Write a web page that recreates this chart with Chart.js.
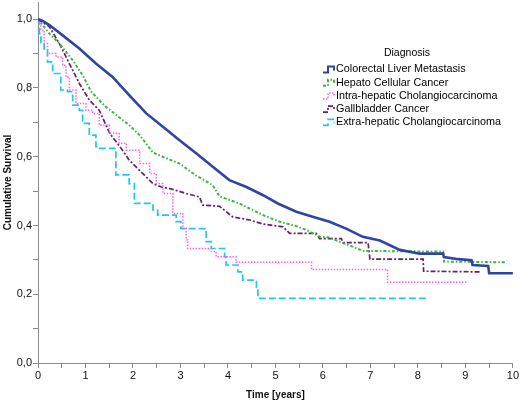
<!DOCTYPE html>
<html>
<head>
<meta charset="utf-8">
<script src="https://cdn.jsdelivr.net/npm/chart.js@4.4.1/dist/chart.umd.min.js"></script>
<style>
  html, body { margin: 0; padding: 0; background: #fff; }
  #wrap { width: 520px; height: 401px; position: relative; }
</style>
</head>
<body>
<div id="wrap"><canvas id="kmChart"></canvas></div>
<script>
// Kaplan-Meier estimates (time in years, cumulative survival)
const diagnoses = [
    'Colorectal Liver Metastasis',
    'Hepato Cellular Cancer',
    'Intra-hepatic Cholangiocarcinoma',
    'Gallbladder Cancer',
    'Extra-hepatic Cholangiocarcinoma'
];

const colorectalT = [0, 0.1, 0.24, 0.52, 0.87, 1.22, 1.57, 1.92, 2.28, 2.63, 2.98, 3.33, 3.68, 4.03, 4.39, 4.74, 5.05, 5.44, 5.8, 6.14, 6.5, 6.84, 7.2, 7.62, 8.04, 8.53, 8.55, 8.85, 9.13, 9.15, 9.48, 9.5, 10.0];
const colorectalS = [1.0, 0.995, 0.983, 0.953, 0.915, 0.871, 0.832, 0.779, 0.726, 0.687, 0.648, 0.61, 0.571, 0.532, 0.512, 0.488, 0.464, 0.44, 0.425, 0.411, 0.39, 0.367, 0.356, 0.329, 0.318, 0.318, 0.308, 0.302, 0.299, 0.285, 0.282, 0.261, 0.261];

const hepatoT = [0, 0.24, 0.45, 0.73, 0.94, 1.12, 1.43, 1.92, 2.14, 2.42, 2.98, 3.33, 3.68, 3.82, 4.24, 4.74, 5.09, 5.44, 5.65, 5.93, 6.14, 6.4, 6.6, 6.84, 8.53, 8.55, 9.83];
const hepatoS = [1.0, 0.958, 0.929, 0.881, 0.837, 0.789, 0.745, 0.692, 0.663, 0.612, 0.58, 0.545, 0.517, 0.485, 0.464, 0.43, 0.411, 0.398, 0.387, 0.368, 0.365, 0.35, 0.34, 0.326, 0.324, 0.295, 0.293];

const intraT = [0, 0.06, 0.13, 0.2, 0.38, 0.52, 0.59, 0.66, 0.8, 1.01, 1.15, 1.29, 1.5, 1.71, 1.86, 2.14, 2.35, 2.49, 2.63, 2.84, 3.05, 3.12, 3.15, 3.65, 3.75, 4.17, 5.76, 7.36, 9.06];
const intraS = [1.0, 0.968, 0.929, 0.9, 0.89, 0.866, 0.832, 0.794, 0.755, 0.735, 0.726, 0.692, 0.668, 0.639, 0.619, 0.58, 0.551, 0.522, 0.493, 0.435, 0.392, 0.358, 0.333, 0.324, 0.309, 0.293, 0.272, 0.235, 0.235];

const gallbladderT = [0, 0.24, 0.45, 0.66, 0.87, 1.08, 1.29, 1.51, 1.78, 1.92, 2.14, 2.42, 2.6, 2.84, 3.12, 3.4, 3.47, 3.82, 4.1, 4.46, 4.74, 5.16, 5.3, 5.86, 5.93, 6.39, 6.42, 6.95, 6.99, 8.11, 8.12, 9.3];
const gallbladderS = [1.0, 0.978, 0.929, 0.871, 0.813, 0.765, 0.735, 0.668, 0.619, 0.59, 0.56, 0.522, 0.512, 0.505, 0.493, 0.483, 0.459, 0.456, 0.425, 0.416, 0.404, 0.396, 0.377, 0.377, 0.362, 0.362, 0.35, 0.35, 0.302, 0.302, 0.267, 0.265];

const extraT = [0, 0.03, 0.06, 0.13, 0.2, 0.31, 0.48, 0.62, 0.73, 0.87, 0.94, 1.08, 1.22, 1.26, 1.64, 1.92, 2.03, 2.42, 2.52, 2.91, 3.01, 3.54, 3.65, 3.93, 3.96, 4.21, 4.31, 4.6, 4.63, 8.17];
const extraS = [1.0, 0.958, 0.929, 0.91, 0.876, 0.842, 0.794, 0.789, 0.75, 0.735, 0.697, 0.663, 0.629, 0.624, 0.547, 0.522, 0.464, 0.445, 0.43, 0.411, 0.391, 0.353, 0.333, 0.309, 0.285, 0.265, 0.241, 0.22, 0.188, 0.188];

function toPoints(ts, ss) {
    return ts.map((t, i) => ({ x: t, y: ss[i] }));
}

const FONT = '"Liberation Sans", Arial, sans-serif';

// legend drawn inside the plot, step-shaped icons like the original
const innerLegend = {
    id: 'innerLegend',
    afterDraw(chart) {
        const ctx = chart.ctx;
        ctx.save();
        ctx.fillStyle = '#000';
        ctx.font = '10.5px ' + FONT;
        ctx.textAlign = 'center';
        ctx.textBaseline = 'middle';
        ctx.fillText('Diagnosis', 407, 53);
        ctx.textAlign = 'left';
        ctx.font = '10.8px ' + FONT;
        chart.data.datasets.forEach((ds, i) => {
            const yc = 69.5 + i * 13.2;
            const x0 = 323;
            ctx.beginPath();
            ctx.strokeStyle = ds.borderColor;
            ctx.lineWidth = Math.min(ds.borderWidth, 2);
            ctx.setLineDash(ds.borderDash || []);
            ctx.moveTo(x0, yc + 3);
            ctx.lineTo(x0 + 5, yc + 3);
            ctx.lineTo(x0 + 5, yc - 3);
            ctx.lineTo(x0 + 11, yc - 3);
            ctx.lineTo(x0 + 11, yc + 1);
            ctx.stroke();
            ctx.setLineDash([]);
            ctx.fillStyle = '#000';
            ctx.fillText(ds.label, 336, yc);
        });
        ctx.restore();
    }
};

const kmCtx = document.getElementById('kmChart');
new Chart(kmCtx, {
    type: 'line',
    data: {
        datasets: [
            {
                label: diagnoses[0],
                data: toPoints(colorectalT, colorectalS),
                borderColor: '#2f45a3',
                borderWidth: 2.6
            },
            {
                label: diagnoses[1],
                data: toPoints(hepatoT, hepatoS),
                borderColor: '#36b93a',
                borderWidth: 2,
                borderDash: [3, 2, 1.5, 2]
            },
            {
                label: diagnoses[2],
                data: toPoints(intraT, intraS),
                borderColor: '#ff5cff',
                borderWidth: 1.5,
                borderDash: [1.5, 1.5],
                stepped: 'before'
            },
            {
                label: diagnoses[3],
                data: toPoints(gallbladderT, gallbladderS),
                borderColor: '#6a1f6e',
                borderWidth: 1.7,
                borderDash: [5, 2, 2, 2]
            },
            {
                label: diagnoses[4],
                data: toPoints(extraT, extraS),
                borderColor: '#22c6f5',
                borderWidth: 1.7,
                borderDash: [7, 3],
                stepped: 'before'
            }
        ]
    },
    options: {
        responsive: true,
        maintainAspectRatio: false,
        animation: false,
        layout: { padding: { top: 2, right: 7, left: 0, bottom: 0 } },
        elements: {
            point: { radius: 0, hoverRadius: 0 },
            line: { tension: 0, fill: false }
        },
        plugins: {
            legend: { display: false },
            tooltip: { enabled: false }
        },
        scales: {
            x: {
                type: 'linear',
                min: 0,
                max: 10,
                afterFit: (scale) => { scale.height = 38; },
                border: { color: '#8c8c8c', width: 1 },
                grid: { drawOnChartArea: false, tickLength: 5, color: '#8c8c8c' },
                ticks: {
                    stepSize: 0.5,
                    padding: 1,
                    color: '#111',
                    font: { family: FONT, size: 11 },
                    maxRotation: 0,
                    autoSkip: false,
                    callback: (v) => Number.isInteger(v) ? String(v) : ''
                },
                title: {
                    display: true,
                    text: 'Time [years]',
                    color: '#111',
                    font: { family: FONT, size: 10, weight: 'bold' },
                    padding: { top: 0, bottom: 0 }
                }
            },
            y: {
                type: 'linear',
                min: 0,
                max: 1.05,
                afterFit: (scale) => { scale.width = 38; scale.paddingTop = 0; },
                border: { color: '#8c8c8c', width: 1 },
                grid: { drawOnChartArea: false, tickLength: 5, color: '#8c8c8c' },
                ticks: {
                    stepSize: 0.1,
                    includeBounds: false,
                    padding: 1,
                    color: '#111',
                    font: { family: FONT, size: 11 },
                    autoSkip: false,
                    callback: (v) => Math.round(v * 10) % 2 === 0 ? v.toFixed(1).replace('.', ',') : ''
                },
                title: {
                    display: true,
                    text: 'Cumulative Survival',
                    color: '#111',
                    font: { family: FONT, size: 10, weight: 'bold' },
                    padding: { top: 2, bottom: 0 }
                }
            }
        }
    },
    plugins: [innerLegend]
});
</script>
</body>
</html>
